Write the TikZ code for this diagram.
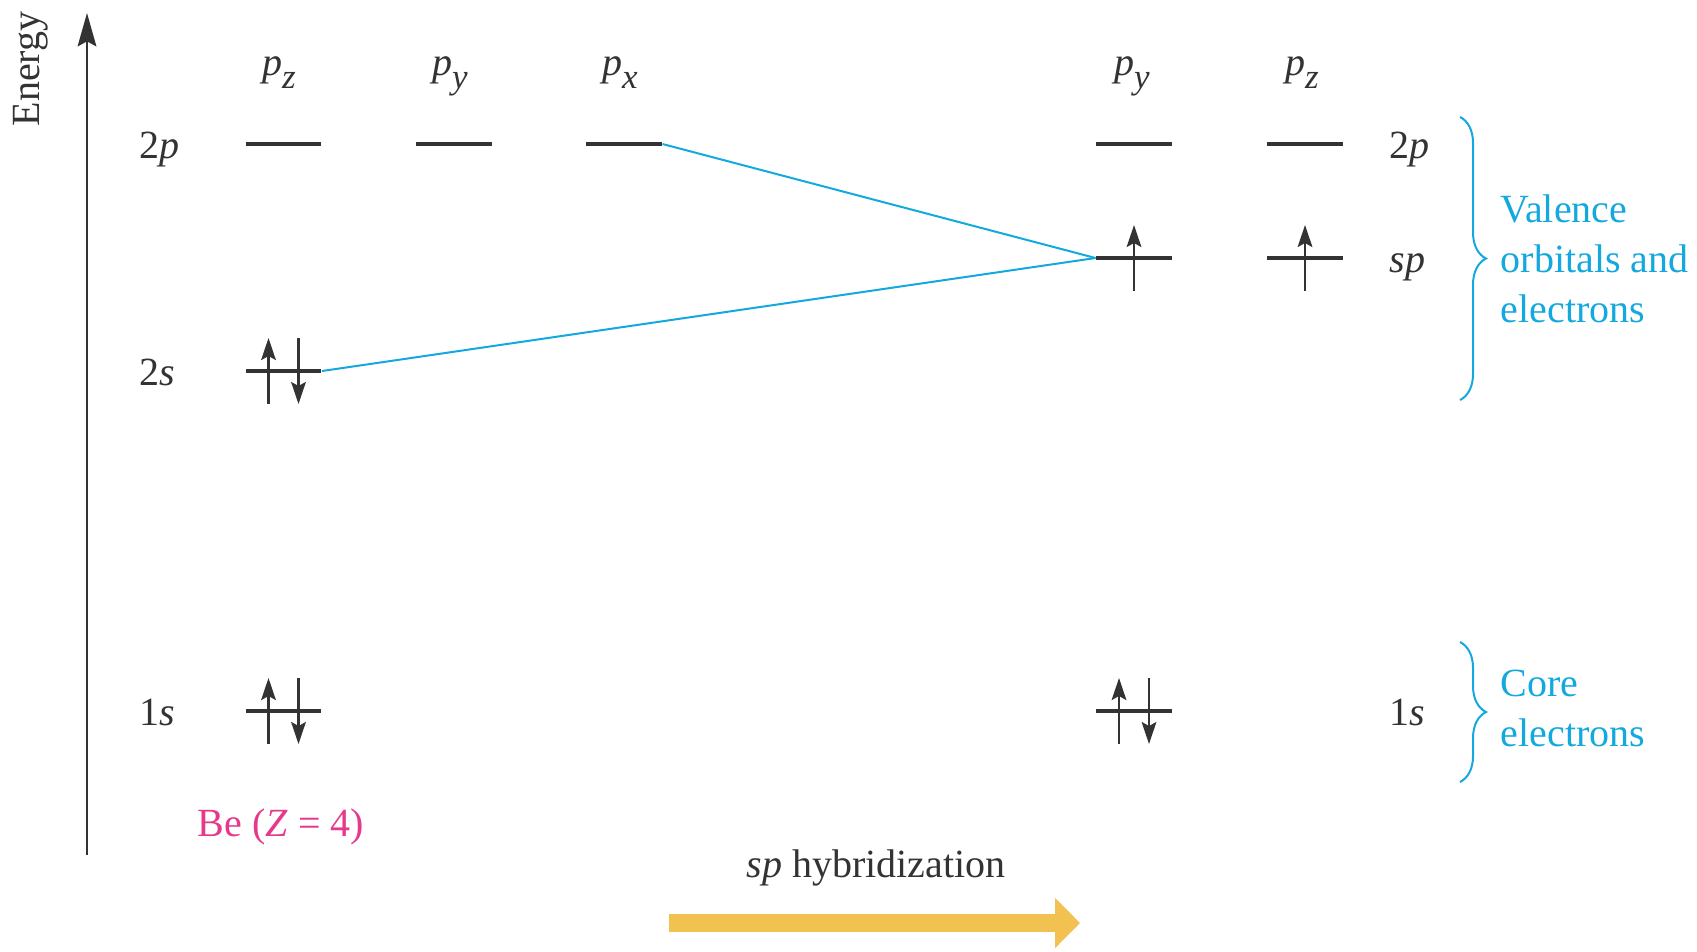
\documentclass[tikz,border=0pt]{standalone}
\usepackage{fontspec}
\setmainfont{Liberation Serif}
\usetikzlibrary{arrows.meta,decorations.pathreplacing}
\definecolor{ink}{HTML}{333333}
\definecolor{valblue}{HTML}{14A9DE}
\definecolor{bepink}{HTML}{E6398C}
\definecolor{hybgold}{HTML}{F2C250}
\tikzset{
  orbital/.style={fill=ink, inner sep=0pt, minimum width=22.7pt, minimum height=1.45pt},
  spin/.style={draw=ink, line width=0.7pt, -{Stealth[length=6.6pt,width=4.4pt,inset=1.2pt]}},
  mixline/.style={draw=valblue, line width=0.6pt},
  lab/.style={text=ink, inner sep=0pt, font=\fontsize{12}{15}\selectfont},
  group/.style={draw=valblue, line width=0.6pt, decorate, decoration={brace, amplitude=7.8pt}},
}
\newcommand\spinup[2]{\draw[spin] ([shift={(#2,33)}]#1.center) -- ++(0,-66);}
\newcommand\spindown[2]{\draw[spin] ([shift={(#2,-33)}]#1.center) -- ++(0,66);}
\newcommand\porb[1]{\textit{p}\raisebox{-0.75ex}{\fontsize{10.5}{10}\selectfont\textit{#1}}}

\begin{document}
\begin{tikzpicture}[x=0.3pt,y=-0.3pt]
\useasboundingbox (0,0) rectangle (1697,951);
\coordinate (eBot) at (87,855);
\coordinate (eTop) at (87,13);
\draw[ink, line width=0.75pt, -{Stealth[length=10pt,width=5.6pt,inset=1.5pt]}] (eBot) -- (eTop);
\node[lab, rotate=90, anchor=base] (energy) at (40,69) {Energy};

\node[orbital] (pz) at (283.5,144) {};
\node[orbital] (py) at (454,144) {};
\node[orbital] (px) at (624,144) {};
\node[orbital] (s2) at (283.5,371) {};
\node[orbital] (s1) at (283.5,711) {};
\node[orbital] (rpy) at (1134,144) {};
\node[orbital] (rpz) at (1305,144) {};
\node[orbital] (sp1) at (1134,258) {};
\node[orbital] (sp2) at (1305,258) {};
\node[orbital] (rs1) at (1134,711) {};

\draw[mixline] (px.east) -- (sp1.west);
\draw[mixline] (s2.east) -- (sp1.west);

\spinup{s2}{-15} \spindown{s2}{15}
\spinup{s1}{-15} \spindown{s1}{15}
\spinup{rs1}{-15} \spindown{rs1}{15}
\spinup{sp1}{0} \spinup{sp2}{0}

\node[lab, anchor=base] (tpz) at (279,75) {\porb{z}};
\node[lab, anchor=base] (tpy) at (450,75) {\porb{y}};
\node[lab, anchor=base] (tpx) at (620,75) {\porb{x}};
\node[lab, anchor=base] (trpy) at (1132,75) {\porb{y}};
\node[lab, anchor=base] (trpz) at (1302,75) {\porb{z}};

\node[lab, anchor=base west] (l2p) at (139,158) {2\textit{p}};
\node[lab, anchor=base west] (l2s) at (139,385) {2\textit{s}};
\node[lab, anchor=base west] (l1s) at (139,725) {1\textit{s}};
\node[lab, anchor=base west] (r2p) at (1389,158) {2\textit{p}};
\node[lab, anchor=base west] (rsp) at (1389,272) {\textit{sp}};
\node[lab, anchor=base west] (r1s) at (1389,725) {1\textit{s}};

\coordinate (valTop) at (1460,117);
\coordinate (valBot) at (1460,400);
\draw[group] (valTop) -- (valBot);
\node[lab, text=valblue, anchor=west, align=left] (valence) at (1500,259) {Valence\\orbitals and\\electrons};
\coordinate (coreTop) at (1460,642);
\coordinate (coreBot) at (1460,782);
\draw[group] (coreTop) -- (coreBot);
\node[lab, text=valblue, anchor=west, align=left] (core) at (1500,708) {Core\\electrons};

\node[lab, text=bepink, anchor=base] (be) at (281,836) {Be (\textit{Z} = 4)};
\node[lab, anchor=base] (hyb) at (876,877) {\textit{sp} hybridization};
\coordinate (hybL) at (669,923);
\coordinate (hybR) at (1080,923);
\draw[hybgold, line width=5.5pt, -{Triangle[length=7.5pt,width=14.7pt]}] (hybL) -- (hybR);
\end{tikzpicture}
\end{document}
